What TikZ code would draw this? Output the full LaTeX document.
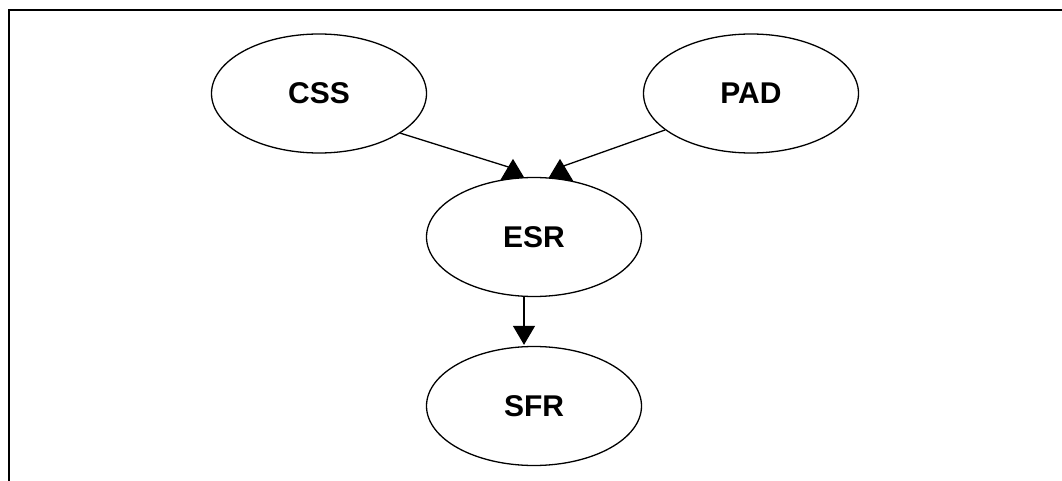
\documentclass[tikz,border=0pt]{standalone}
\usepackage{fontspec}
\setmainfont{Liberation Sans}
\usetikzlibrary{shapes.geometric,arrows.meta,calc,backgrounds}
\tikzset{
  bubble/.style={ellipse, draw=black, line width=1.3pt, fill=white,
    minimum width=215pt, minimum height=119pt, inner sep=0pt,
    font=\fontsize{30}{36}\selectfont\bfseries},
  conn/.style={draw=black, line width=1.3pt},
  bigtip/.style={-{Triangle[length=22pt,width=26pt]}},
  downtip/.style={-{Triangle[length=19pt,width=22pt]}},
  frame/.style={line width=2pt, line join=miter}
}
\begin{document}
\begin{tikzpicture}[x=1pt,y=-1pt]
  \useasboundingbox (0,0) rectangle (1062,481);
  \draw[frame] (1062,10) -- (9,10) -- (9,481);
  \node[bubble] (css) at (319,93.5) {CSS};
  \node[bubble] (pad) at (751,93.5) {PAD};
  \node[bubble] (esr) at (534,237) {ESR};
  \node[bubble] (sfr) at (534,406) {SFR};
  \begin{pgfonlayer}{background}
    \draw[conn,bigtip] (css.-26) -- ($(esr.north)+(-25.7,-9.9)$)
      -- ($(esr.north)+(-21,6)$) -- ($(esr.north)+(-21,-18)$);
    \draw[conn,bigtip] (pad.203) -- ($(esr.north)+(30,-11)$)
      -- ($(esr.north)+(26,6)$) -- ($(esr.north)+(26,-18)$);
    \draw[conn,downtip] ($(esr.south)+(-10,0)$) -- ($(sfr.north)+(-10,-1)$);
  \end{pgfonlayer}
\end{tikzpicture}
\end{document}
